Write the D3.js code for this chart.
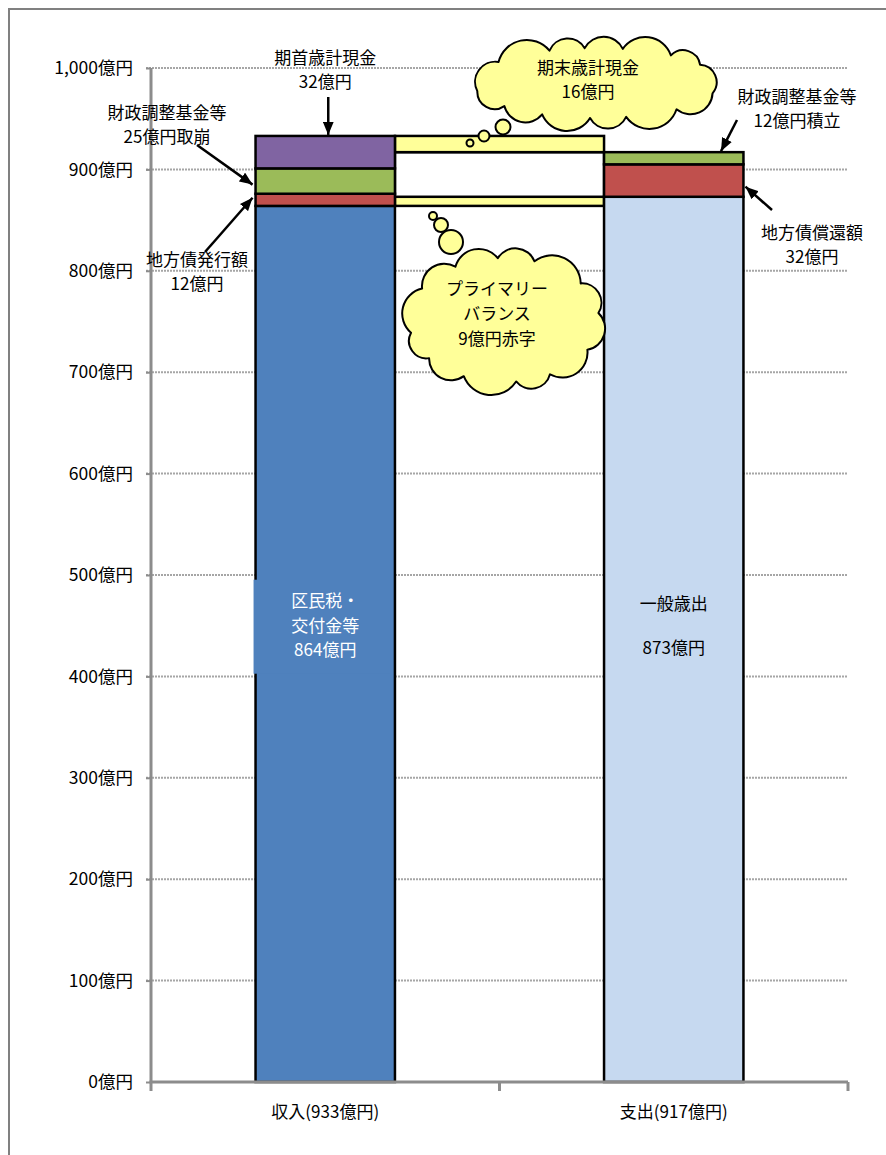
<!DOCTYPE html>
<html>
<head>
<meta charset="utf-8">
<script src="https://cdn.jsdelivr.net/npm/d3@7"></script>
<style>
  body { margin: 0; background: #fff; }
  text { font-family: "Noto Sans CJK JP", "Noto Sans", sans-serif; font-size: 17px; fill: #000; }
</style>
</head>
<body>
<div id="chart"></div>
<script>
// ---- data ----
const categories = ["収入(933億円)", "支出(917億円)"];

const revenueNames  = ["区民税・交付金等", "地方債発行額", "財政調整基金等取崩", "期首歳計現金"];
const revenueValues = [864, 12, 25, 32];
const revenueColors = ["#4f81bd", "#c0504d", "#9bbb59", "#8064a2"];

const expenseNames  = ["一般歳出", "地方債償還額", "財政調整基金等積立"];
const expenseValues = [873, 32, 12];
const expenseColors = ["#c6d9f0", "#c0504d", "#9bbb59"];

// connector between the two bars: primary balance deficit, gap, closing cash
const bridgeBase   = 864;
const bridgeValues = [9, 44, 16];
const bridgeColors = ["#ffff99", "#ffffff", "#ffff99"];

const yTicks = [0, 100, 200, 300, 400, 500, 600, 700, 800, 900, 1000];

// ---- layout ----
const W = 886, H = 1155;
const plotLeft = 151, plotRight = 848, plotTop = 68, plotBottom = 1082;
const LH = 24.8; // line step for stacked text lines

const svg = d3.select("#chart").append("svg")
  .attr("width", W).attr("height", H);

const y = d3.scaleLinear().domain([0, 1000]).range([plotBottom, plotTop]);
const x = d3.scaleBand().domain(categories)
  .range([plotLeft, plotRight])
  .paddingInner(0.6).paddingOuter(0.3);
const bw = x.bandwidth();

// stacks a list of values on a base
function stack(values, base = 0) {
  let acc = base;
  return values.map(v => { const s = acc; acc += v; return [s, acc]; });
}

// outer frame
svg.append("path")
  .attr("d", `M9,${H}V9H${W}`)
  .attr("fill", "none").attr("stroke", "#808080").attr("stroke-width", 2);

// gridlines
svg.append("g").selectAll("line")
  .data(yTicks.filter(d => d > 0))
  .join("line")
    .attr("x1", plotLeft - 5).attr("x2", plotRight)
    .attr("y1", d => y(d)).attr("y2", d => y(d))
    .attr("stroke", "#a6a6a6").attr("stroke-width", 2)
    .attr("stroke-dasharray", "2,1");

// connector column
const bx0 = x(categories[0]) + bw, bx1 = x(categories[1]);
svg.append("g").selectAll("rect")
  .data(stack(bridgeValues, bridgeBase))
  .join("rect")
    .attr("x", bx0).attr("width", bx1 - bx0)
    .attr("y", d => y(d[1])).attr("height", d => y(d[0]) - y(d[1]))
    .attr("fill", (d, i) => bridgeColors[i])
    .attr("stroke", "#000").attr("stroke-width", 2.5);

// bars
function drawBar(cat, values, colors) {
  svg.append("g").selectAll("rect")
    .data(stack(values))
    .join("rect")
      .attr("x", x(cat)).attr("width", bw)
      .attr("y", d => y(d[1])).attr("height", d => y(d[0]) - y(d[1]))
      .attr("fill", (d, i) => colors[i])
      .attr("stroke", "#000").attr("stroke-width", 2.5);
}
drawBar(categories[0], revenueValues, revenueColors);
drawBar(categories[1], expenseValues, expenseColors);

// data labels inside the base segments
const labelY = y(450);
svg.append("rect")
  .attr("x", x(categories[0]) - 2).attr("width", bw - 2)
  .attr("y", labelY - 46).attr("height", 94)
  .attr("fill", revenueColors[0]);

function lines(cx, cy, arr, fill, step = LH) {
  const t = svg.append("text").attr("text-anchor", "middle").attr("fill", fill);
  arr.forEach((s, i) => {
    t.append("tspan").attr("x", cx)
      .attr("y", cy + (i - (arr.length - 1) / 2) * step)
      .attr("dy", "0.35em").text(s);
  });
  return t;
}
lines(x(categories[0]) + bw / 2, labelY, ["区民税・", "交付金等", revenueValues[0] + "億円"])
  .style("fill", "#fff");
lines(x(categories[1]) + bw / 2, labelY, ["一般歳出", "", expenseValues[0] + "億円"], "#000", 22);

// y axis
const yAxis = svg.append("g")
  .attr("transform", `translate(${plotLeft},0)`)
  .call(d3.axisLeft(y).tickValues(yTicks).tickSize(5).tickPadding(13)
    .tickFormat(d => d3.format(",")(d) + "億円"));
yAxis.select(".domain").attr("stroke", "#8c8c8c").attr("stroke-width", 3)
  .attr("d", `M0,${plotTop}V${plotBottom}`);
yAxis.selectAll(".tick line").attr("stroke", "#8c8c8c").attr("stroke-width", 2);
yAxis.selectAll(".tick text").style("font-size", "17.5px").attr("fill", "#000");

// x axis (ticks on category boundaries)
const xg = svg.append("g");
xg.append("line")
  .attr("x1", plotLeft - 1.5).attr("x2", plotRight)
  .attr("y1", plotBottom).attr("y2", plotBottom)
  .attr("stroke", "#8c8c8c").attr("stroke-width", 3);
xg.selectAll("line.t")
  .data(d3.range(categories.length + 1))
  .join("line").attr("class", "t")
    .attr("x1", i => plotLeft + i * x.step()).attr("x2", i => plotLeft + i * x.step())
    .attr("y1", plotBottom).attr("y2", plotBottom + 9)
    .attr("stroke", "#8c8c8c").attr("stroke-width", 3);
xg.selectAll("text")
  .data(categories)
  .join("text")
    .attr("x", d => x(d) + bw / 2).attr("y", plotBottom + 30)
    .attr("dy", "0.35em").attr("text-anchor", "middle")
    .text(d => d);

// arrows
const defs = svg.append("defs");
defs.append("marker")
  .attr("id", "ah").attr("markerUnits", "userSpaceOnUse")
  .attr("viewBox", "0 0 12 10").attr("refX", 12).attr("refY", 5)
  .attr("markerWidth", 13).attr("markerHeight", 11).attr("orient", "auto")
  .append("path").attr("d", "M0,0L12,5L0,10Z").attr("fill", "#000");

function arrow(x1, y1, x2, y2) {
  svg.append("line")
    .attr("x1", x1).attr("y1", y1).attr("x2", x2).attr("y2", y2)
    .attr("stroke", "#000").attr("stroke-width", 2.5)
    .attr("marker-end", "url(#ah)");
}

const r0 = x(categories[0]), e0 = x(categories[1]);
const revTop = d3.sum(revenueValues), expTop = d3.sum(expenseValues);

// 期首歳計現金
lines(r0 + bw / 2, 70, ["期首歳計現金", revenueValues[3] + "億円"]);
arrow(r0 + bw / 2 + 3, 97, r0 + bw / 2 + 3, y(revTop) - 1);
// 財政調整基金等 取崩
lines(167, 125, ["財政調整基金等", revenueValues[2] + "億円取崩"]);
arrow(197, 145, r0 - 3, y(885));
// 地方債発行額
lines(197, 272, ["地方債発行額", revenueValues[1] + "億円"]);
arrow(205, 252, r0 - 3, y(872));
// 財政調整基金等 積立
lines(797, 109, ["財政調整基金等", expenseValues[2] + "億円積立"]);
arrow(737, 120, 721, y(expTop) - 1);
// 地方債償還額
lines(812, 245, ["地方債償還額", expenseValues[1] + "億円"]);
arrow(772, 210, e0 + bw + 2, y(883));

// clouds
function cloudPath(cx, cy, rx, ry, sizes, start) {
  const n = 400, pts = [];
  for (let i = 0; i <= n; i++) {
    const t = start + i / n * 2 * Math.PI;
    pts.push([cx + rx * Math.cos(t), cy + ry * Math.sin(t)]);
  }
  const cum = [0];
  for (let i = 1; i <= n; i++) cum.push(cum[i - 1] + Math.hypot(pts[i][0] - pts[i - 1][0], pts[i][1] - pts[i - 1][1]));
  const total = cum[n], sw = d3.sum(sizes);
  const nodes = [];
  let acc = 0;
  sizes.forEach(s => {
    const target = acc / sw * total;
    const j = d3.bisectLeft(cum, target);
    nodes.push(pts[Math.min(j, n)]);
    acc += s;
  });
  let d = `M${nodes[0][0]},${nodes[0][1]}`;
  nodes.forEach((p, i) => {
    const q = nodes[(i + 1) % nodes.length];
    const r = Math.hypot(q[0] - p[0], q[1] - p[1]) * 0.56;
    d += `A${r},${r} 0 0 1 ${q[0]},${q[1]}`;
  });
  return d + "Z";
}

function cloud(cx, cy, rx, ry, sizes, start, bubbles, textLines, tx, ty) {
  const g = svg.append("g");
  bubbles.forEach(b => {
    g.append("circle").attr("cx", b[0]).attr("cy", b[1]).attr("r", b[2])
      .attr("fill", "#ffff99").attr("stroke", "#000").attr("stroke-width", 2);
  });
  g.append("path").attr("d", cloudPath(cx, cy, rx, ry, sizes, start))
    .attr("fill", "#ffff99").attr("stroke", "#000").attr("stroke-width", 2)
    .attr("stroke-linejoin", "round");
  lines(tx, ty, textLines, "#000");
}

cloud(596, 83, 122, 35,
  [1.0, 1.3, 0.9, 1.2, 1.0, 0.8, 1.1, 1.3, 0.9, 1.0, 1.2, 0.8, 1.0], 0.3,
  [[470, 143, 3.5], [484, 136, 5.5], [503, 127, 7.5]],
  ["期末歳計現金", bridgeValues[2] + "億円"], 588, 80);

cloud(504, 320, 95, 62,
  [1.1, 0.9, 1.3, 1.0, 0.8, 1.2, 1.0, 1.1, 0.9, 1.3, 0.9, 1.0], 0.5,
  [[433, 216, 4], [441, 225, 7], [451, 242, 12]],
  ["プライマリー", "バランス", bridgeValues[0] + "億円赤字"], 497, 314);
</script>
</body>
</html>
